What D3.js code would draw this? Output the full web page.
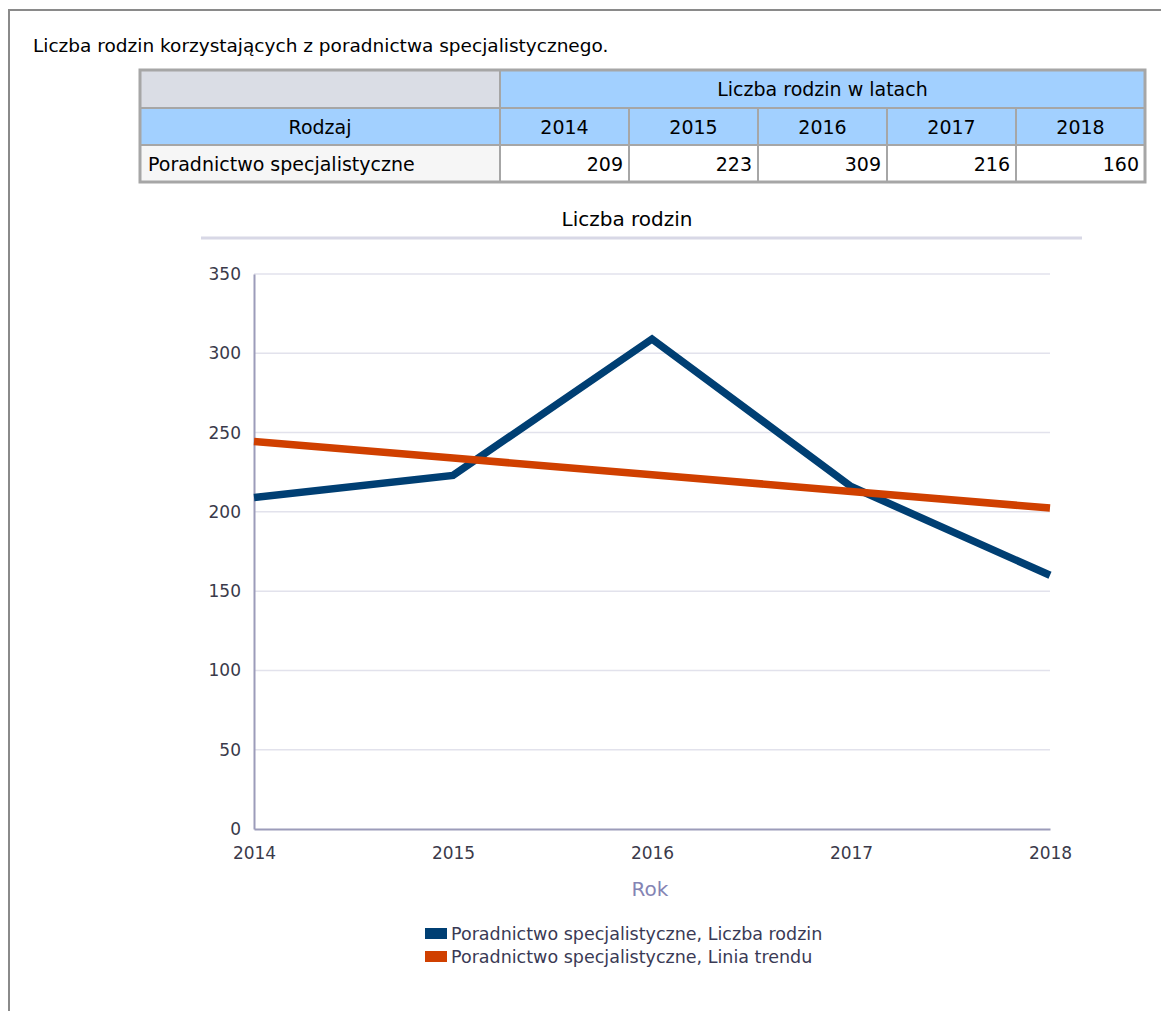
<!DOCTYPE html>
<html>
<head>
<meta charset="utf-8">
<script src="https://cdn.jsdelivr.net/npm/d3@7"></script>
<style>
  body { margin: 0; background: #fff; }
  text { font-family: "DejaVu Sans", sans-serif; }
</style>
</head>
<body>
<div id="chart"></div>
<script>
// Liczba rodzin korzystających z poradnictwa specjalistycznego

const years = ['2014', '2015', '2016', '2017', '2018'];
const families = [209, 223, 309, 216, 160];          // Liczba rodzin
const trend = [244.4, 233.9, 223.4, 212.9, 202.4];   // Linia trendu
const yTicks = [0, 50, 100, 150, 200, 250, 300, 350];
const rowLabel = 'Poradnictwo specjalistyczne';
const seriesNames = [
  'Poradnictwo specjalistyczne, Liczba rodzin',
  'Poradnictwo specjalistyczne, Linia trendu'
];
const seriesColors = ['#003f73', '#d04000'];

const width = 1161;
const height = 1011;

const svg = d3.select('#chart')
  .append('svg')
  .attr('width', width)
  .attr('height', height);

// page frame
svg.append('line')
  .attr('x1', 8).attr('x2', width).attr('y1', 10).attr('y2', 10)
  .attr('stroke', '#8a8a8a').attr('stroke-width', 2);
svg.append('line')
  .attr('x1', 9).attr('x2', 9).attr('y1', 10).attr('y2', height)
  .attr('stroke', '#8a8a8a').attr('stroke-width', 2);

svg.append('text')
  .attr('x', 33)
  .attr('y', 52)
  .style('font-size', '18.5px')
  .attr('fill', '#000')
  .text('Liczba rodzin korzystających z poradnictwa specjalistycznego.');

// ---- table ----
const table = { left: 140, right: 1145, firstCol: 500, rows: [70, 108, 145, 182] };
const col = d3.scaleBand()
  .domain(years)
  .range([table.firstCol, table.right]);

const tbl = svg.append('g');
const cellStroke = '#a6a6a6';

// header row 1
tbl.append('rect')
  .attr('x', table.left).attr('y', table.rows[0])
  .attr('width', table.firstCol - table.left).attr('height', table.rows[1] - table.rows[0])
  .attr('fill', '#dadde5').attr('stroke', cellStroke).attr('stroke-width', 2);
tbl.append('rect')
  .attr('x', table.firstCol).attr('y', table.rows[0])
  .attr('width', table.right - table.firstCol).attr('height', table.rows[1] - table.rows[0])
  .attr('fill', '#a2d0ff').attr('stroke', cellStroke).attr('stroke-width', 2);
tbl.append('text')
  .attr('x', (table.firstCol + table.right) / 2)
  .attr('y', table.rows[0] + 26)
  .attr('text-anchor', 'middle')
  .style('font-size', '19px')
  .text('Liczba rodzin w latach');

// header row 2
tbl.append('rect')
  .attr('x', table.left).attr('y', table.rows[1])
  .attr('width', table.firstCol - table.left).attr('height', table.rows[2] - table.rows[1])
  .attr('fill', '#a2d0ff').attr('stroke', cellStroke).attr('stroke-width', 2);
tbl.append('text')
  .attr('x', (table.left + table.firstCol) / 2)
  .attr('y', table.rows[1] + 26)
  .attr('text-anchor', 'middle')
  .style('font-size', '19px')
  .text('Rodzaj');
tbl.selectAll('.yearcell')
  .data(years)
  .enter().append('rect')
  .attr('class', 'yearcell')
  .attr('x', d => col(d)).attr('y', table.rows[1])
  .attr('width', col.bandwidth()).attr('height', table.rows[2] - table.rows[1])
  .attr('fill', '#a2d0ff').attr('stroke', cellStroke).attr('stroke-width', 2);
tbl.selectAll('.yearlabel')
  .data(years)
  .enter().append('text')
  .attr('class', 'yearlabel')
  .attr('x', d => col(d) + col.bandwidth() / 2)
  .attr('y', table.rows[1] + 26)
  .attr('text-anchor', 'middle')
  .style('font-size', '19px')
  .text(d => d);

// data row
tbl.append('rect')
  .attr('x', table.left).attr('y', table.rows[2])
  .attr('width', table.firstCol - table.left).attr('height', table.rows[3] - table.rows[2])
  .attr('fill', '#f6f6f6').attr('stroke', cellStroke).attr('stroke-width', 2);
tbl.append('text')
  .attr('x', table.left + 8)
  .attr('y', table.rows[2] + 26)
  .style('font-size', '19px')
  .text(rowLabel);
tbl.selectAll('.valcell')
  .data(years)
  .enter().append('rect')
  .attr('class', 'valcell')
  .attr('x', d => col(d)).attr('y', table.rows[2])
  .attr('width', col.bandwidth()).attr('height', table.rows[3] - table.rows[2])
  .attr('fill', '#fff').attr('stroke', cellStroke).attr('stroke-width', 2);
tbl.selectAll('.vallabel')
  .data(families)
  .enter().append('text')
  .attr('class', 'vallabel')
  .attr('x', (d, i) => col(years[i]) + col.bandwidth() - 6)
  .attr('y', table.rows[2] + 26)
  .attr('text-anchor', 'end')
  .style('font-size', '19px')
  .text(d => d);

// outer table border
tbl.append('rect')
  .attr('x', table.left).attr('y', table.rows[0])
  .attr('width', table.right - table.left).attr('height', table.rows[3] - table.rows[0])
  .attr('fill', 'none').attr('stroke', cellStroke).attr('stroke-width', 3);

// ---- chart ----
svg.append('text')
  .attr('x', 627)
  .attr('y', 226)
  .attr('text-anchor', 'middle')
  .style('font-size', '20px')
  .text('Liczba rodzin');
svg.append('line')
  .attr('x1', 201).attr('x2', 1082).attr('y1', 238).attr('y2', 238)
  .attr('stroke', '#d8d8e6').attr('stroke-width', 3);

const margin = { top: 274, right: 1050, bottom: 829, left: 254 };

const x = d3.scalePoint()
  .domain(years)
  .range([margin.left, margin.right]);

const y = d3.scaleLinear()
  .domain([0, 350])
  .range([margin.bottom, margin.top]);

// gridlines
svg.append('g')
  .selectAll('line')
  .data(yTicks.filter(d => d > 0))
  .enter().append('line')
  .attr('x1', margin.left).attr('x2', margin.right)
  .attr('y1', d => y(d)).attr('y2', d => y(d))
  .attr('stroke', '#e2e2ec').attr('stroke-width', 1.5);

// Y axis
const yAxis = svg.append('g')
  .attr('transform', `translate(${margin.left},0)`)
  .call(d3.axisLeft(y).tickValues(yTicks).tickSize(0).tickPadding(13));
yAxis.select('.domain').attr('stroke', '#9c9cba').attr('stroke-width', 2);
yAxis.selectAll('text')
  .style('font-size', '17px')
  .attr('fill', '#3a3a4a')
  .attr('font-family', null);

// X axis
const xAxis = svg.append('g')
  .attr('transform', `translate(0,${margin.bottom})`)
  .call(d3.axisBottom(x).tickSize(0).tickPadding(18));
xAxis.select('.domain').attr('stroke', '#9c9cba').attr('stroke-width', 2);
xAxis.selectAll('text')
  .style('font-size', '17px')
  .attr('fill', '#3a3a4a')
  .attr('font-family', null);

svg.append('text')
  .attr('x', 650)
  .attr('y', 896)
  .attr('text-anchor', 'middle')
  .style('font-size', '20px')
  .attr('fill', '#8484b4')
  .text('Rok');

// lines
const line = d3.line()
  .x((d, i) => x(years[i]))
  .y(d => y(d));

svg.append('path')
  .datum(families)
  .attr('d', line)
  .attr('fill', 'none')
  .attr('stroke', seriesColors[0])
  .attr('stroke-width', 7.5);

svg.append('path')
  .datum(trend)
  .attr('d', line)
  .attr('fill', 'none')
  .attr('stroke', seriesColors[1])
  .attr('stroke-width', 7.5);

// legend
const legend = svg.append('g')
  .selectAll('g')
  .data(seriesNames)
  .enter().append('g')
  .attr('transform', (d, i) => `translate(425,${928 + i * 23})`);
legend.append('rect')
  .attr('width', 22).attr('height', 11)
  .attr('fill', (d, i) => seriesColors[i]);
legend.append('text')
  .attr('x', 26)
  .attr('y', 12)
  .style('font-size', '17.5px')
  .attr('fill', '#3a3a55')
  .text(d => d);
</script>
</body>
</html>
